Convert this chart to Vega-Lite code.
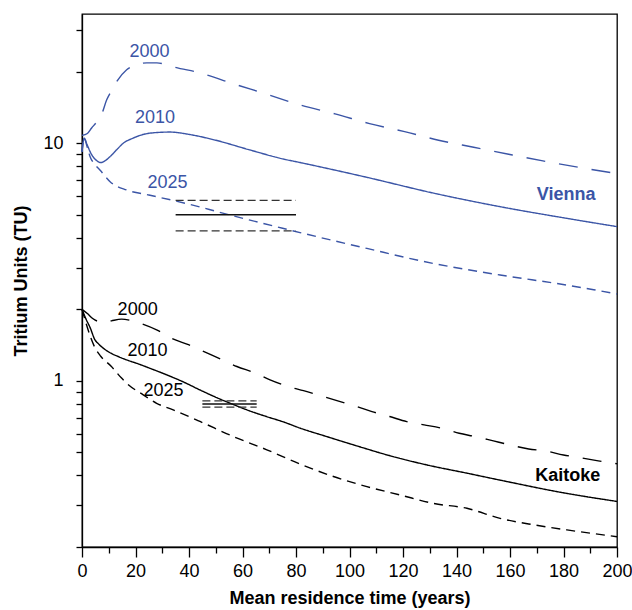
{
  "$schema": "https://vega.github.io/schema/vega-lite/v6.json",
  "autosize": {"type": "none"},
  "width": 535,
  "height": 533,
  "padding": {"left": 82, "top": 14, "right": 15, "bottom": 63},
  "background": "white",
  "config": {
    "font": "Liberation Sans",
    "view": {"stroke": "black", "strokeWidth": 1.3},
    "axis": {"grid": false, "domainColor": "black", "domainWidth": 1.3, "tickColor": "black", "tickWidth": 1.3, "labelColor": "black", "titleColor": "black", "labelFont": "Liberation Sans", "titleFont": "Liberation Sans"}
  },
  "datasets": {
    "curves": [
      {"site": "Vienna", "year": "2000", "t": 0, "tu": 10.8},
      {"site": "Vienna", "year": "2000", "t": 2, "tu": 11.0},
      {"site": "Vienna", "year": "2000", "t": 3.6, "tu": 11.6},
      {"site": "Vienna", "year": "2000", "t": 5.5, "tu": 12.3},
      {"site": "Vienna", "year": "2000", "t": 7.4, "tu": 13.3},
      {"site": "Vienna", "year": "2000", "t": 9.2, "tu": 15.2},
      {"site": "Vienna", "year": "2000", "t": 11.1, "tu": 16.7},
      {"site": "Vienna", "year": "2000", "t": 13, "tu": 18.2},
      {"site": "Vienna", "year": "2000", "t": 16.7, "tu": 20.4},
      {"site": "Vienna", "year": "2000", "t": 20, "tu": 21.3},
      {"site": "Vienna", "year": "2000", "t": 24.2, "tu": 21.8},
      {"site": "Vienna", "year": "2000", "t": 28, "tu": 21.8},
      {"site": "Vienna", "year": "2000", "t": 31, "tu": 21.5},
      {"site": "Vienna", "year": "2000", "t": 34, "tu": 21.0},
      {"site": "Vienna", "year": "2000", "t": 44, "tu": 19.8},
      {"site": "Vienna", "year": "2000", "t": 56.6, "tu": 17.8},
      {"site": "Vienna", "year": "2000", "t": 69, "tu": 16.1},
      {"site": "Vienna", "year": "2000", "t": 81.5, "tu": 14.5},
      {"site": "Vienna", "year": "2000", "t": 94.6, "tu": 13.3},
      {"site": "Vienna", "year": "2000", "t": 107.5, "tu": 12.1},
      {"site": "Vienna", "year": "2000", "t": 120.6, "tu": 11.2},
      {"site": "Vienna", "year": "2000", "t": 133.3, "tu": 10.3},
      {"site": "Vienna", "year": "2000", "t": 146.4, "tu": 9.62},
      {"site": "Vienna", "year": "2000", "t": 159.5, "tu": 8.99},
      {"site": "Vienna", "year": "2000", "t": 172.3, "tu": 8.43},
      {"site": "Vienna", "year": "2000", "t": 185.6, "tu": 7.93},
      {"site": "Vienna", "year": "2000", "t": 200, "tu": 7.45},

      {"site": "Vienna", "year": "2010", "t": 0, "tu": 9.2},
      {"site": "Vienna", "year": "2010", "t": 0.8, "tu": 10.5},
      {"site": "Vienna", "year": "2010", "t": 2, "tu": 9.8},
      {"site": "Vienna", "year": "2010", "t": 3.5, "tu": 9.0},
      {"site": "Vienna", "year": "2010", "t": 5, "tu": 8.55},
      {"site": "Vienna", "year": "2010", "t": 7, "tu": 8.3},
      {"site": "Vienna", "year": "2010", "t": 9, "tu": 8.5},
      {"site": "Vienna", "year": "2010", "t": 11, "tu": 8.9},
      {"site": "Vienna", "year": "2010", "t": 13, "tu": 9.4},
      {"site": "Vienna", "year": "2010", "t": 15.4, "tu": 10.0},
      {"site": "Vienna", "year": "2010", "t": 19, "tu": 10.5},
      {"site": "Vienna", "year": "2010", "t": 23, "tu": 10.9},
      {"site": "Vienna", "year": "2010", "t": 28, "tu": 11.1},
      {"site": "Vienna", "year": "2010", "t": 33, "tu": 11.15},
      {"site": "Vienna", "year": "2010", "t": 40, "tu": 10.9},
      {"site": "Vienna", "year": "2010", "t": 50, "tu": 10.3},
      {"site": "Vienna", "year": "2010", "t": 62.8, "tu": 9.37},
      {"site": "Vienna", "year": "2010", "t": 75, "tu": 8.6},
      {"site": "Vienna", "year": "2010", "t": 81.5, "tu": 8.3},
      {"site": "Vienna", "year": "2010", "t": 106.5, "tu": 7.19},
      {"site": "Vienna", "year": "2010", "t": 131.4, "tu": 6.17},
      {"site": "Vienna", "year": "2010", "t": 156.3, "tu": 5.41},
      {"site": "Vienna", "year": "2010", "t": 181.3, "tu": 4.83},
      {"site": "Vienna", "year": "2010", "t": 200, "tu": 4.46},

      {"site": "Vienna", "year": "2025", "t": 0, "tu": 9.2},
      {"site": "Vienna", "year": "2025", "t": 0.8, "tu": 10.5},
      {"site": "Vienna", "year": "2025", "t": 2, "tu": 9.6},
      {"site": "Vienna", "year": "2025", "t": 3, "tu": 8.8},
      {"site": "Vienna", "year": "2025", "t": 5, "tu": 8.1},
      {"site": "Vienna", "year": "2025", "t": 6.7, "tu": 7.72},
      {"site": "Vienna", "year": "2025", "t": 10.5, "tu": 6.89},
      {"site": "Vienna", "year": "2025", "t": 16.7, "tu": 6.36},
      {"site": "Vienna", "year": "2025", "t": 25, "tu": 6.06},
      {"site": "Vienna", "year": "2025", "t": 34, "tu": 5.75},
      {"site": "Vienna", "year": "2025", "t": 44, "tu": 5.4},
      {"site": "Vienna", "year": "2025", "t": 50.4, "tu": 5.16},
      {"site": "Vienna", "year": "2025", "t": 62.8, "tu": 4.75},
      {"site": "Vienna", "year": "2025", "t": 75, "tu": 4.39},
      {"site": "Vienna", "year": "2025", "t": 81.5, "tu": 4.21},
      {"site": "Vienna", "year": "2025", "t": 106.5, "tu": 3.61},
      {"site": "Vienna", "year": "2025", "t": 131.4, "tu": 3.12},
      {"site": "Vienna", "year": "2025", "t": 156.3, "tu": 2.79},
      {"site": "Vienna", "year": "2025", "t": 181.3, "tu": 2.53},
      {"site": "Vienna", "year": "2025", "t": 191.3, "tu": 2.42},
      {"site": "Vienna", "year": "2025", "t": 200, "tu": 2.32},

      {"site": "Kaitoke", "year": "2000", "t": 0, "tu": 2.0},
      {"site": "Kaitoke", "year": "2000", "t": 2, "tu": 1.92},
      {"site": "Kaitoke", "year": "2000", "t": 4, "tu": 1.83},
      {"site": "Kaitoke", "year": "2000", "t": 6, "tu": 1.78},
      {"site": "Kaitoke", "year": "2000", "t": 8, "tu": 1.76},
      {"site": "Kaitoke", "year": "2000", "t": 11, "tu": 1.79},
      {"site": "Kaitoke", "year": "2000", "t": 14.8, "tu": 1.82},
      {"site": "Kaitoke", "year": "2000", "t": 18, "tu": 1.8},
      {"site": "Kaitoke", "year": "2000", "t": 21.7, "tu": 1.75},
      {"site": "Kaitoke", "year": "2000", "t": 27.9, "tu": 1.64},
      {"site": "Kaitoke", "year": "2000", "t": 33.5, "tu": 1.51},
      {"site": "Kaitoke", "year": "2000", "t": 39.8, "tu": 1.42},
      {"site": "Kaitoke", "year": "2000", "t": 45.4, "tu": 1.33},
      {"site": "Kaitoke", "year": "2000", "t": 52.2, "tu": 1.23},
      {"site": "Kaitoke", "year": "2000", "t": 57.9, "tu": 1.15},
      {"site": "Kaitoke", "year": "2000", "t": 64.7, "tu": 1.08},
      {"site": "Kaitoke", "year": "2000", "t": 70.3, "tu": 1.01},
      {"site": "Kaitoke", "year": "2000", "t": 77.2, "tu": 0.946},
      {"site": "Kaitoke", "year": "2000", "t": 82.8, "tu": 0.91},
      {"site": "Kaitoke", "year": "2000", "t": 95.3, "tu": 0.826},
      {"site": "Kaitoke", "year": "2000", "t": 102, "tu": 0.785},
      {"site": "Kaitoke", "year": "2000", "t": 108.4, "tu": 0.743},
      {"site": "Kaitoke", "year": "2000", "t": 115, "tu": 0.708},
      {"site": "Kaitoke", "year": "2000", "t": 121.4, "tu": 0.674},
      {"site": "Kaitoke", "year": "2000", "t": 127.9, "tu": 0.653},
      {"site": "Kaitoke", "year": "2000", "t": 134.5, "tu": 0.632},
      {"site": "Kaitoke", "year": "2000", "t": 141, "tu": 0.602},
      {"site": "Kaitoke", "year": "2000", "t": 147, "tu": 0.583},
      {"site": "Kaitoke", "year": "2000", "t": 153.8, "tu": 0.559},
      {"site": "Kaitoke", "year": "2000", "t": 160, "tu": 0.538},
      {"site": "Kaitoke", "year": "2000", "t": 167, "tu": 0.517},
      {"site": "Kaitoke", "year": "2000", "t": 173, "tu": 0.508},
      {"site": "Kaitoke", "year": "2000", "t": 180, "tu": 0.488},
      {"site": "Kaitoke", "year": "2000", "t": 186.3, "tu": 0.475},
      {"site": "Kaitoke", "year": "2000", "t": 193, "tu": 0.461},
      {"site": "Kaitoke", "year": "2000", "t": 200, "tu": 0.448},

      {"site": "Kaitoke", "year": "2010", "t": 0, "tu": 2.0},
      {"site": "Kaitoke", "year": "2010", "t": 1.5, "tu": 1.82},
      {"site": "Kaitoke", "year": "2010", "t": 3, "tu": 1.68},
      {"site": "Kaitoke", "year": "2010", "t": 4.7, "tu": 1.5},
      {"site": "Kaitoke", "year": "2010", "t": 6.5, "tu": 1.42},
      {"site": "Kaitoke", "year": "2010", "t": 9.7, "tu": 1.33},
      {"site": "Kaitoke", "year": "2010", "t": 14, "tu": 1.26},
      {"site": "Kaitoke", "year": "2010", "t": 17.2, "tu": 1.22},
      {"site": "Kaitoke", "year": "2010", "t": 21, "tu": 1.18},
      {"site": "Kaitoke", "year": "2010", "t": 25.4, "tu": 1.13},
      {"site": "Kaitoke", "year": "2010", "t": 31.7, "tu": 1.06},
      {"site": "Kaitoke", "year": "2010", "t": 37.9, "tu": 0.99},
      {"site": "Kaitoke", "year": "2010", "t": 44.1, "tu": 0.916},
      {"site": "Kaitoke", "year": "2010", "t": 50.4, "tu": 0.85},
      {"site": "Kaitoke", "year": "2010", "t": 56.6, "tu": 0.795},
      {"site": "Kaitoke", "year": "2010", "t": 62.8, "tu": 0.747},
      {"site": "Kaitoke", "year": "2010", "t": 69.1, "tu": 0.707},
      {"site": "Kaitoke", "year": "2010", "t": 75.3, "tu": 0.672},
      {"site": "Kaitoke", "year": "2010", "t": 81.5, "tu": 0.633},
      {"site": "Kaitoke", "year": "2010", "t": 91.5, "tu": 0.583},
      {"site": "Kaitoke", "year": "2010", "t": 101.5, "tu": 0.538},
      {"site": "Kaitoke", "year": "2010", "t": 115.2, "tu": 0.484},
      {"site": "Kaitoke", "year": "2010", "t": 128.9, "tu": 0.443},
      {"site": "Kaitoke", "year": "2010", "t": 143.9, "tu": 0.409},
      {"site": "Kaitoke", "year": "2010", "t": 158.9, "tu": 0.377},
      {"site": "Kaitoke", "year": "2010", "t": 178.8, "tu": 0.34},
      {"site": "Kaitoke", "year": "2010", "t": 200, "tu": 0.311},

      {"site": "Kaitoke", "year": "2025", "t": 0, "tu": 2.0},
      {"site": "Kaitoke", "year": "2025", "t": 1.5, "tu": 1.75},
      {"site": "Kaitoke", "year": "2025", "t": 3, "tu": 1.55},
      {"site": "Kaitoke", "year": "2025", "t": 4.7, "tu": 1.39},
      {"site": "Kaitoke", "year": "2025", "t": 7, "tu": 1.27},
      {"site": "Kaitoke", "year": "2025", "t": 11, "tu": 1.15},
      {"site": "Kaitoke", "year": "2025", "t": 14.7, "tu": 1.03},
      {"site": "Kaitoke", "year": "2025", "t": 16.7, "tu": 0.978},
      {"site": "Kaitoke", "year": "2025", "t": 22.9, "tu": 0.873},
      {"site": "Kaitoke", "year": "2025", "t": 27.9, "tu": 0.805},
      {"site": "Kaitoke", "year": "2025", "t": 34.1, "tu": 0.755},
      {"site": "Kaitoke", "year": "2025", "t": 44.1, "tu": 0.675},
      {"site": "Kaitoke", "year": "2025", "t": 56.6, "tu": 0.583},
      {"site": "Kaitoke", "year": "2025", "t": 69.1, "tu": 0.513},
      {"site": "Kaitoke", "year": "2025", "t": 81.5, "tu": 0.447},
      {"site": "Kaitoke", "year": "2025", "t": 94, "tu": 0.396},
      {"site": "Kaitoke", "year": "2025", "t": 106.5, "tu": 0.359},
      {"site": "Kaitoke", "year": "2025", "t": 119, "tu": 0.331},
      {"site": "Kaitoke", "year": "2025", "t": 131.4, "tu": 0.305},
      {"site": "Kaitoke", "year": "2025", "t": 143.9, "tu": 0.291},
      {"site": "Kaitoke", "year": "2025", "t": 156.3, "tu": 0.264},
      {"site": "Kaitoke", "year": "2025", "t": 168.8, "tu": 0.248},
      {"site": "Kaitoke", "year": "2025", "t": 181.3, "tu": 0.236},
      {"site": "Kaitoke", "year": "2025", "t": 200, "tu": 0.221}
    ],
    "bars": [
      {"site": "Vienna", "kind": "upper", "t": 35, "t2": 80, "tu": 5.75},
      {"site": "Vienna", "kind": "mid", "t": 35, "t2": 80, "tu": 5.0},
      {"site": "Vienna", "kind": "lower", "t": 35, "t2": 80, "tu": 4.28},
      {"site": "Kaitoke", "kind": "upper", "t": 45, "t2": 65.3, "tu": 0.824},
      {"site": "Kaitoke", "kind": "mid", "t": 45, "t2": 65.3, "tu": 0.80},
      {"site": "Kaitoke", "kind": "lower", "t": 45, "t2": 65.3, "tu": 0.776}
    ],
    "labels": [
      {"site": "Vienna", "text": "2000", "t": 25.2, "tu": 24.3, "bold": false},
      {"site": "Vienna", "text": "2010", "t": 27.3, "tu": 12.8, "bold": false},
      {"site": "Vienna", "text": "2025", "t": 32, "tu": 6.81, "bold": false},
      {"site": "Vienna", "text": "Vienna", "t": 181, "tu": 6.05, "bold": true},
      {"site": "Kaitoke", "text": "2000", "t": 20.8, "tu": 1.98, "bold": false},
      {"site": "Kaitoke", "text": "2010", "t": 24.5, "tu": 1.33, "bold": false},
      {"site": "Kaitoke", "text": "2025", "t": 30.5, "tu": 0.91, "bold": false},
      {"site": "Kaitoke", "text": "Kaitoke", "t": 181.6, "tu": 0.398, "bold": true}
    ]
  },
  "resolve": {"axis": {"x": "independent"}, "scale": {"strokeDash": "independent"}},
  "layer": [
    {
      "data": {"name": "curves"},
      "mark": {"type": "line", "strokeWidth": 1.4, "interpolate": "monotone"},
      "encoding": {
        "x": {
          "field": "t", "type": "quantitative",
          "scale": {"domain": [0, 200], "nice": false, "zero": false},
          "axis": {"orient": "bottom", "values": [0, 20, 40, 60, 80, 100, 120, 140, 160, 180, 200], "tickSize": 10, "labelFontSize": 18, "labelPadding": 5, "labelFlush": false, "title": "Mean residence time (years)", "titleFontSize": 18, "titleFontWeight": "bold", "titlePadding": 9}
        },
        "y": {
          "field": "tu", "type": "quantitative",
          "scale": {"type": "log", "domain": [0.2, 35], "nice": false},
          "axis": {"orient": "left", "values": [0.2, 0.3, 0.4, 0.5, 0.6, 0.7, 0.8, 0.9, 1, 2, 3, 4, 5, 6, 7, 8, 9, 10, 20, 30], "tickSize": 6, "labelFontSize": 18, "labelPadding": 13, "labelExpr": "datum.value == 1 ? '1' : (datum.value == 10 ? '10' : '')", "labelFlush": false, "title": "Tritium Units (TU)", "titleFontSize": 18, "titleFontWeight": "bold", "titlePadding": 12}
        },
        "color": {"field": "site", "type": "nominal", "scale": {"domain": ["Vienna", "Kaitoke"], "range": ["#3b55a6", "#000000"]}, "legend": null},
        "strokeDash": {"field": "year", "type": "nominal", "scale": {"domain": ["2000", "2010", "2025"], "range": [[19, 14], [1, 0], [9, 6]]}, "legend": null}
      }
    },
    {
      "data": {"name": "bars"},
      "transform": [{"filter": "datum.kind == 'mid'"}],
      "mark": {"type": "rule", "strokeWidth": 1.4, "color": "#111111"},
      "encoding": {
        "x": {
          "field": "t", "type": "quantitative",
          "axis": {"orient": "bottom", "values": [10, 30, 50, 70, 90, 110, 130, 150, 170, 190], "tickSize": 6, "labels": false, "domain": false, "title": null}
        },
        "x2": {"field": "t2"},
        "y": {"field": "tu", "type": "quantitative"}
      }
    },
    {
      "data": {"name": "bars"},
      "transform": [{"filter": "datum.kind != 'mid'"}],
      "mark": {"type": "rule", "strokeWidth": 1.4, "color": "#333333", "strokeDash": [8, 4]},
      "encoding": {
        "x": {"field": "t", "type": "quantitative", "axis": null},
        "x2": {"field": "t2"},
        "y": {"field": "tu", "type": "quantitative"}
      }
    },
    {
      "data": {"name": "labels"},
      "transform": [{"filter": "!datum.bold"}],
      "mark": {"type": "text", "fontSize": 18, "align": "center", "baseline": "middle"},
      "encoding": {
        "x": {"field": "t", "type": "quantitative", "axis": null},
        "y": {"field": "tu", "type": "quantitative"},
        "text": {"field": "text"},
        "color": {"field": "site", "type": "nominal", "scale": {"domain": ["Vienna", "Kaitoke"], "range": ["#3b55a6", "#000000"]}, "legend": null}
      }
    },
    {
      "data": {"name": "labels"},
      "transform": [{"filter": "datum.bold"}],
      "mark": {"type": "text", "fontSize": 18, "fontWeight": "bold", "align": "center", "baseline": "middle"},
      "encoding": {
        "x": {"field": "t", "type": "quantitative", "axis": null},
        "y": {"field": "tu", "type": "quantitative"},
        "text": {"field": "text"},
        "color": {"field": "site", "type": "nominal", "scale": {"domain": ["Vienna", "Kaitoke"], "range": ["#3b55a6", "#000000"]}, "legend": null}
      }
    }
  ]
}
